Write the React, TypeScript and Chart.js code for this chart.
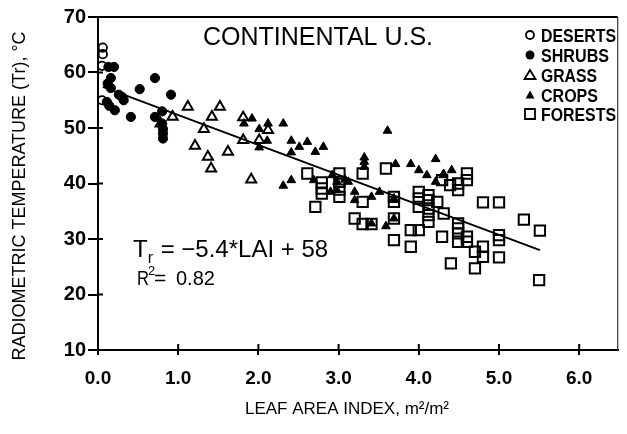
import React, { useEffect, useRef } from 'react';
import { Chart, registerables } from 'chart.js';

Chart.register(...registerables);

const FONT = '"Liberation Sans", Arial, Helvetica, sans-serif';

// ---- tick labels / texts ----
const xTickValues = [0, 1, 2, 3, 4, 5, 6];
const xTickLabels = ['0.0', '1.0', '2.0', '3.0', '4.0', '5.0', '6.0'];
const yTickValues = [10, 20, 30, 40, 50, 60, 70];
const yTickLabels = ['10', '20', '30', '40', '50', '60', '70'];

const chartTitle = 'CONTINENTAL U.S.';
const xAxisTitle = 'LEAF AREA INDEX, m²/m²';
const yAxisTitle = 'RADIOMETRIC TEMPERATURE (Tr), °C';
const legendLabels = ['DESERTS', 'SHRUBS', 'GRASS', 'CROPS', 'FORESTS'];

// ---- data: leaf area index (x) and radiometric temperature (y) ----
const desertLAI = [0.06, 0.06, 0.05, 0.05];
const desertTemp = [64.5, 63.3, 61.2, 55.0];

const shrubLAI = [0.13, 0.2, 0.16, 0.12, 0.16, 0.26, 0.3, 0.32, 0.11, 0.14, 0.21, 0.41, 0.52, 0.71, 0.91, 0.71, 0.8, 0.8, 0.81, 0.81, 0.81];
const shrubTemp = [61.0, 61.0, 59.0, 58.0, 57.2, 56.0, 55.6, 55.0, 54.7, 54.0, 53.2, 52.0, 57.0, 59.0, 56.0, 52.0, 53.0, 50.8, 49.8, 49.0, 48.1];

const grassLAI = [0.78, 0.93, 1.12, 1.21, 1.32, 1.37, 1.41, 1.42, 1.52, 1.62, 1.81, 1.81, 1.91, 2.01, 2.12];
const grassTemp = [50.8, 52.0, 53.8, 46.8, 49.8, 44.8, 42.7, 52.0, 53.8, 45.7, 51.9, 47.8, 40.7, 47.8, 49.6];

const cropLAI = [1.82, 1.92, 2.01, 2.12, 2.31, 2.11, 2.01, 2.41, 2.61, 2.51, 2.41, 2.71, 2.81, 2.31, 2.41, 2.69, 2.92, 2.98, 3.08, 3.12, 2.9, 2.98, 3.2, 3.41, 3.51, 3.69, 3.2, 3.32, 3.32, 3.32, 3.61, 3.71, 3.9, 4.0, 4.1, 4.21, 4.21, 4.31, 4.41, 3.69, 3.59, 3.41, 4.3];
const cropTemp = [50.8, 51.7, 49.8, 50.8, 50.8, 47.7, 46.5, 47.7, 47.5, 46.6, 45.6, 45.7, 46.6, 39.6, 40.6, 40.6, 41.5, 40.3, 40.7, 40.3, 38.5, 38.8, 38.5, 37.6, 38.5, 37.3, 37.0, 44.7, 43.9, 43.0, 49.5, 43.5, 43.5, 42.4, 41.5, 44.4, 40.3, 41.7, 42.4, 33.7, 32.3, 32.8, 41.5];

const forestLAI = [2.61, 2.79, 2.79, 2.79, 3.01, 3.01, 3.01, 3.01, 2.71, 3.59, 3.3, 3.3, 3.2, 3.3, 3.41, 3.69, 3.69, 3.69, 3.69, 3.9, 3.9, 4.0, 4.0, 4.0, 4.0, 4.12, 4.12, 4.12, 4.12, 4.12, 4.23, 4.29, 4.6, 4.6, 4.49, 4.49, 4.39, 4.29, 4.31, 4.8, 5.0, 5.31, 5.51, 4.49, 4.49, 4.49, 4.49, 4.6, 4.6, 4.8, 4.8, 4.7, 5.0, 5.0, 5.0, 4.4, 4.7, 5.5];
const forestTemp = [41.8, 40.2, 39.1, 38.2, 41.8, 40.3, 38.9, 37.6, 35.8, 42.7, 41.8, 36.7, 33.7, 32.7, 32.7, 37.6, 36.7, 33.7, 29.8, 28.6, 31.6, 31.6, 38.5, 37.3, 35.8, 37.9, 37.0, 35.5, 34.3, 33.1, 36.7, 30.4, 41.8, 40.6, 40.0, 38.8, 39.7, 40.6, 34.6, 36.6, 36.6, 33.5, 31.5, 32.8, 31.9, 31.0, 29.5, 29.5, 30.4, 28.6, 26.8, 27.7, 30.7, 29.8, 26.7, 25.6, 24.7, 22.6];

// regression line end points
const fitLAI = [0.06, 5.51];
const fitTemp = [57.4, 28.0];

const pts = (xs: number[], ys: number[]) => xs.map((x, i) => ({ x, y: ys[i] }));

const annotationPlugin = {
  id: 'annotations',
  afterDraw(chart: any) {
    const ctx = chart.ctx as CanvasRenderingContext2D;
    const { left, right, top, bottom } = chart.chartArea;
    const xs = chart.scales.x;
    const ys = chart.scales.y;
    ctx.save();
    ctx.strokeStyle = '#000';
    ctx.fillStyle = '#000';

    // frame (top / right)
    ctx.lineWidth = 2;
    ctx.beginPath();
    ctx.moveTo(left, top);
    ctx.lineTo(right, top);
    ctx.stroke();
    ctx.lineWidth = 1.2;
    ctx.strokeStyle = '#333';
    ctx.beginPath();
    ctx.moveTo(right, top);
    ctx.lineTo(right, bottom);
    ctx.stroke();
    ctx.strokeStyle = '#000';

    // inner tick parts
    ctx.lineWidth = 2;
    ctx.beginPath();
    xTickValues.forEach((v) => {
      const px = xs.getPixelForValue(v);
      ctx.moveTo(px, bottom);
      ctx.lineTo(px, bottom - 6);
    });
    yTickValues.forEach((v) => {
      const py = ys.getPixelForValue(v);
      ctx.moveTo(left, py);
      ctx.lineTo(left + 5, py);
    });
    ctx.stroke();

    // title inside plot
    ctx.textAlign = 'center';
    ctx.textBaseline = 'alphabetic';
    ctx.font = `25px ${FONT}`;
    ctx.fillText(chartTitle, 318, 45, 238);

    // legend
    const lx = 530;
    const rows = [35, 55, 75, 95, 114];
    const widths = [75, 68, 56, 57, 75];
    ctx.font = `bold 18px ${FONT}`;
    ctx.textAlign = 'left';
    rows.forEach((cy, i) => {
      ctx.fillText(legendLabels[i], 541, cy + 6.5, widths[i]);
      ctx.lineWidth = 1.8;
      ctx.beginPath();
      if (i === 0) {
        ctx.arc(lx, cy, 4, 0, Math.PI * 2);
        ctx.stroke();
      } else if (i === 1) {
        ctx.arc(lx, cy, 4.5, 0, Math.PI * 2);
        ctx.fill();
      } else if (i === 2) {
        ctx.moveTo(lx, cy - 5);
        ctx.lineTo(lx + 5.5, cy + 4);
        ctx.lineTo(lx - 5.5, cy + 4);
        ctx.closePath();
        ctx.stroke();
      } else if (i === 3) {
        ctx.moveTo(lx, cy - 4.5);
        ctx.lineTo(lx + 4.5, cy + 3.5);
        ctx.lineTo(lx - 4.5, cy + 3.5);
        ctx.closePath();
        ctx.fill();
      } else {
        ctx.rect(lx - 5, cy - 5, 10, 10);
        ctx.stroke();
      }
    });

    // regression equation
    ctx.font = `24px ${FONT}`;
    let ex = 133;
    ctx.fillText('T', ex, 257);
    ex += ctx.measureText('T').width;
    ctx.font = `16px ${FONT}`;
    ctx.fillText('r', ex, 263);
    ex += ctx.measureText('r').width + 1;
    ctx.font = `24px ${FONT}`;
    ctx.fillText(' = −5.4*LAI + 58', ex, 257);

    ctx.font = `21px ${FONT}`;
    ctx.fillText('R', 137, 285, 12);
    ctx.font = `13px ${FONT}`;
    ctx.fillText('2', 148, 275);
    ctx.font = `21px ${FONT}`;
    ctx.fillText('=', 154, 285);
    ctx.font = `20px ${FONT}`;
    ctx.fillText('0.82', 176, 285);

    // axis titles
    ctx.textAlign = 'center';
    ctx.textBaseline = 'middle';
    ctx.font = `17px ${FONT}`;
    ctx.fillText(xAxisTitle, 347, 409, 228);
    ctx.save();
    ctx.translate(20, 196);
    ctx.rotate(-Math.PI / 2);
    ctx.font = `18px ${FONT}`;
    ctx.fillText(yAxisTitle, 0, 0, 348);
    ctx.restore();

    ctx.restore();
  },
};

export default function App() {
  const canvasRef = useRef<HTMLCanvasElement | null>(null);

  useEffect(() => {
    const canvas = canvasRef.current;
    if (!canvas) return;
    const common = { borderColor: '#000', clip: false as any };
    const chart = new Chart(canvas, {
      type: 'scatter',
      data: {
        datasets: [
          {
            label: legendLabels[0],
            data: pts(desertLAI, desertTemp),
            pointStyle: 'circle',
            pointRadius: 4.2,
            pointBorderWidth: 1.8,
            backgroundColor: 'rgba(0,0,0,0)',
            ...common,
          },
          {
            label: legendLabels[1],
            data: pts(shrubLAI, shrubTemp),
            pointStyle: 'circle',
            pointRadius: 4.6,
            pointBorderWidth: 1,
            backgroundColor: '#000',
            ...common,
          },
          {
            label: legendLabels[2],
            data: pts(grassLAI, grassTemp),
            pointStyle: 'triangle',
            pointRadius: 5.8,
            pointBorderWidth: 2,
            backgroundColor: 'rgba(0,0,0,0)',
            ...common,
          },
          {
            label: legendLabels[3],
            data: pts(cropLAI, cropTemp),
            pointStyle: 'triangle',
            pointRadius: 5,
            pointBorderWidth: 1,
            backgroundColor: '#000',
            ...common,
          },
          {
            label: legendLabels[4],
            data: pts(forestLAI, forestTemp),
            pointStyle: 'rect',
            pointRadius: 7.3,
            pointBorderWidth: 2,
            backgroundColor: 'rgba(0,0,0,0)',
            ...common,
          },
          {
            type: 'line',
            label: 'Fit',
            data: pts(fitLAI, fitTemp),
            borderColor: '#000',
            borderWidth: 2,
            pointRadius: 0,
            fill: false,
          } as any,
        ],
      },
      options: {
        animation: false,
        responsive: false,
        devicePixelRatio: 1,
        layout: { padding: { top: 17, right: 2, left: 0, bottom: 0 } },
        plugins: {
          legend: { display: false },
          tooltip: { enabled: false },
          title: { display: false },
        },
        scales: {
          x: {
            type: 'linear',
            min: 0,
            max: 6.48,
            afterBuildTicks: (s: any) => {
              s.ticks = xTickValues.map((v) => ({ value: v }));
            },
            afterFit: (s: any) => {
              s.height = 84;
            },
            ticks: {
              callback: (v: any) => xTickLabels[xTickValues.indexOf(Number(v))] ?? '',
              font: { family: FONT, size: 19, weight: 'bold' },
              color: '#000',
              padding: 12,
              maxRotation: 0,
              autoSkip: false,
            },
            grid: { drawOnChartArea: false, drawTicks: true, tickLength: 5, color: '#000', lineWidth: 2 },
            border: { color: '#000', width: 2 },
          },
          y: {
            type: 'linear',
            min: 10,
            max: 70,
            afterBuildTicks: (s: any) => {
              s.ticks = yTickValues.map((v) => ({ value: v }));
            },
            afterFit: (s: any) => {
              s.width = 98;
            },
            ticks: {
              callback: (v: any) => yTickLabels[yTickValues.indexOf(Number(v))] ?? '',
              font: { family: FONT, size: 20, weight: 'bold' },
              color: '#000',
              padding: 2,
              autoSkip: false,
            },
            grid: { drawOnChartArea: false, drawTicks: true, tickLength: 10, color: '#000', lineWidth: 2 },
            border: { color: '#000', width: 2 },
          },
        },
      },
      plugins: [annotationPlugin],
    });
    return () => chart.destroy();
  }, []);

  return (
    <div style={{ position: 'absolute', left: 0, top: 0, width: 627, height: 434, background: '#fff' }}>
      <canvas ref={canvasRef} width={627} height={434} style={{ display: 'block' }} />
    </div>
  );
}
